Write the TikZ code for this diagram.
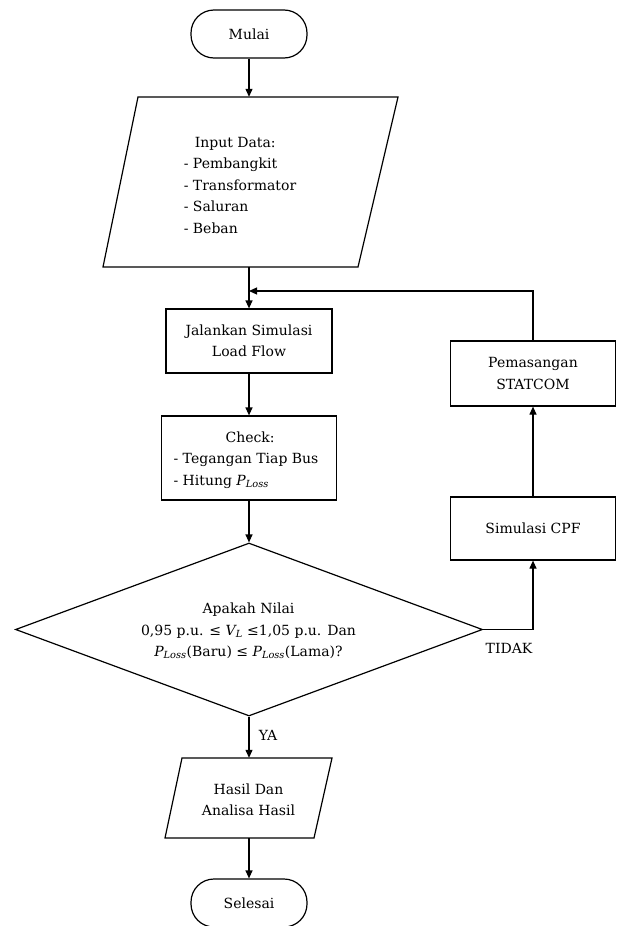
\documentclass[tikz,border=0pt]{standalone}
\usepackage{fontspec}
\setmainfont{DejaVu Serif}
\usetikzlibrary{shapes.geometric,arrows.meta}
\newcommand{\PL}{{\itshape P}\textsubscript{\itshape Loss}}
\begin{document}
\begin{tikzpicture}[x=1pt,y=-1pt,
  every node/.style={font=\fontsize{14}{21.5}\selectfont},
  line/.style={line width=1.2pt},
  arr/.style={line width=1.2pt,-{Triangle[length=8pt,width=7pt]}},
  term/.style={draw,line width=1.2pt,rounded corners=23pt,minimum width=116pt,minimum height=48pt,inner sep=0pt},
  procbox/.style={draw,line width=1.2pt,minimum width=#1,inner sep=0pt,align=center},
  ghost/.style={minimum width=#1,inner sep=0pt,align=center}]
\useasboundingbox (0,0) rectangle (619,926);
\fill[white] (0,0) rectangle (619,926);

% start
\node[term] (mulai) at (249,34) {Mulai};

% input
\node[ghost=295pt,minimum height=170pt] (input) at (249,182) {};
\draw[line] (138,97) -- (398,97) -- (358,267) -- (103,267) -- cycle;
\node[align=left] (inputtxt) at (240,185) {\hspace*{11pt}Input Data:\\- Pembangkit\\- Transformator\\- Saluran\\- Beban};

% process boxes
\node[procbox=166pt,minimum height=64pt] (jalan) at (249,341) {Jalankan Simulasi\\Load Flow};
\node[procbox=175pt,minimum height=84pt] (check) at (249,458) {};
\node[align=left] (checktxt) at (246,460) {\hspace*{52pt}Check:\\- Tegangan Tiap Bus\\- Hitung \PL};

% decision
\node[diamond,draw,line width=1.2pt,aspect=2.7,minimum width=467pt,minimum height=173pt,inner sep=0pt] (dec) at (249,629.5) {};
\node[align=center] (dectxt) at (248.5,631) {Apakah Nilai\\0,95 p.u. ≤ {\itshape V}\textsubscript{\itshape L} ≤1,05 p.u. Dan\\\PL(Baru) ≤ \PL(Lama)?};

% right branch
\node[procbox=165pt,minimum height=63pt] (cpf) at (533,528.5) {Simulasi CPF};
\node[procbox=165pt,minimum height=65pt] (statcom) at (533,373.5) {Pemasangan\\STATCOM};

% output
\node[ghost=167pt,minimum height=80pt] (hasil) at (249,798) {};
\draw[line] (182,758) -- (332,758) -- (314,838) -- (165,838) -- cycle;
\node[align=center] (hasiltxt) at (248.5,800) {Hasil Dan\\Analisa Hasil};

% end
\node[term] (selesai) at (249,903) {Selesai};

% connectors
\coordinate (join) at (249,291);
\draw[arr] (mulai.south) -- (input.north);
\draw[arr] (input.south) -- (jalan.north);
\draw[arr] (jalan.south) -- (check.north);
\draw[arr] (check.south) -- (dec.north);
\draw[arr] (dec.south) -- node[right=6pt,pos=0.45] (ya) {YA} (hasil.north);
\draw[arr] (hasil.south) -- (selesai.north);
\draw[arr] (dec.east) -- (cpf.south |- dec.east) -- (cpf.south);
\node (tidak) at (509,648) {TIDAK};
\draw[arr] (cpf.north) -- (statcom.south);
\draw[arr] (statcom.north) -- (statcom.north |- join) -- (join);
\end{tikzpicture}
\end{document}
